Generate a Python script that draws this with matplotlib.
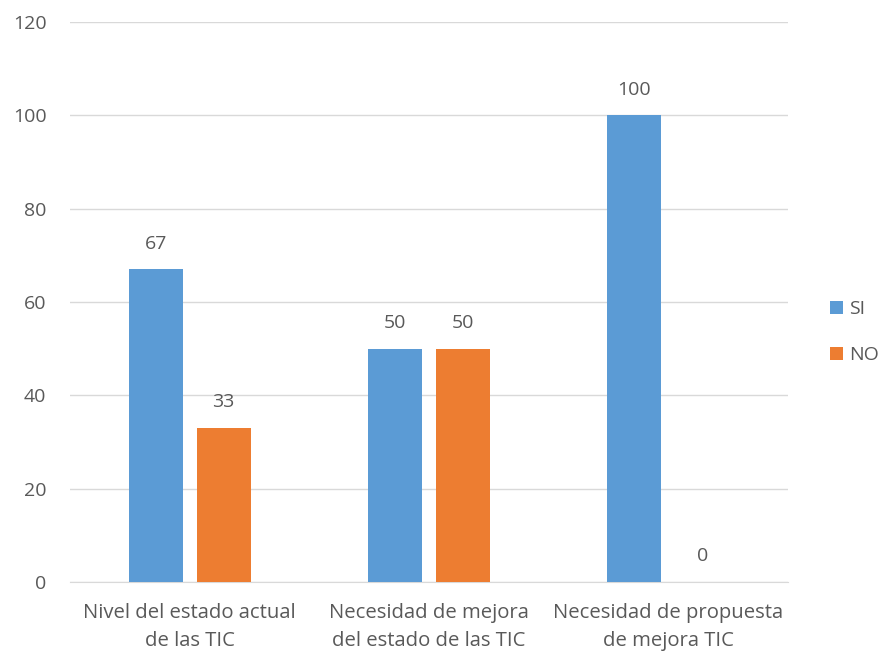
import matplotlib
matplotlib.use("Agg")
import matplotlib.pyplot as plt
import numpy as np
from matplotlib.patches import Patch

categories = ["Nivel del estado actual\nde las TIC",
              "Necesidad de mejora\ndel estado de las TIC",
              "Necesidad de propuesta\nde mejora TIC"]
si_values = [67, 50, 100]
no_values = [33, 50, 0]
series_names = ["SI", "NO"]
yticks = [0, 20, 40, 60, 80, 100, 120]

plt.rcParams['font.family'] = ['Open Sans', 'DejaVu Sans']
txt = '#595959'
blue = '#5B9BD5'
orange = '#ED7D31'
fs = 14
fsx = 14.6

fig = plt.figure(figsize=(8.88, 6.53), dpi=100)
ax = fig.add_axes([70/888, 1-582/653, 718/888, 560/653])

x = np.arange(len(categories))
w = 0.226
gap = 0.058
b1 = ax.bar(x - (w+gap)/2, si_values, w, color=blue, zorder=3)
b2 = ax.bar(x + (w+gap)/2, no_values, w, color=orange, zorder=3)

for bars, vals in ((b1, si_values), (b2, no_values)):
    for r, v in zip(bars, vals):
        ax.annotate(f"{v}", (r.get_x() + r.get_width()/2, r.get_height()),
                    xytext=(0, 12), textcoords='offset points',
                    ha='center', va='bottom', fontsize=fs, color=txt)

ax.set_xlim(-0.5, 2.5)
ax.set_ylim(0, 120)
ax.set_yticks(yticks)
ax.set_xticks(x)
ax.set_xticklabels(categories, fontsize=fsx, color=txt, linespacing=1.55)
ax.tick_params(axis='y', length=0, pad=17, labelsize=fs, labelcolor=txt)
ax.tick_params(axis='x', length=0, pad=15)
ax.grid(axis='y', color='#D9D9D9', linewidth=1, zorder=0)
for s in ['top', 'right', 'left']:
    ax.spines[s].set_visible(False)
ax.spines['bottom'].set_color('#D9D9D9')

handles = [Patch(facecolor=blue), Patch(facecolor=orange)]
fig.legend(handles, series_names, loc='center left', bbox_to_anchor=(830/888, 1-332/653),
           frameon=False, fontsize=fs, labelcolor=txt, handlelength=0.65, handleheight=0.65,
           handletextpad=0.35, labelspacing=1.45, borderpad=0, borderaxespad=0)

fig.savefig("out.png", dpi=100)
